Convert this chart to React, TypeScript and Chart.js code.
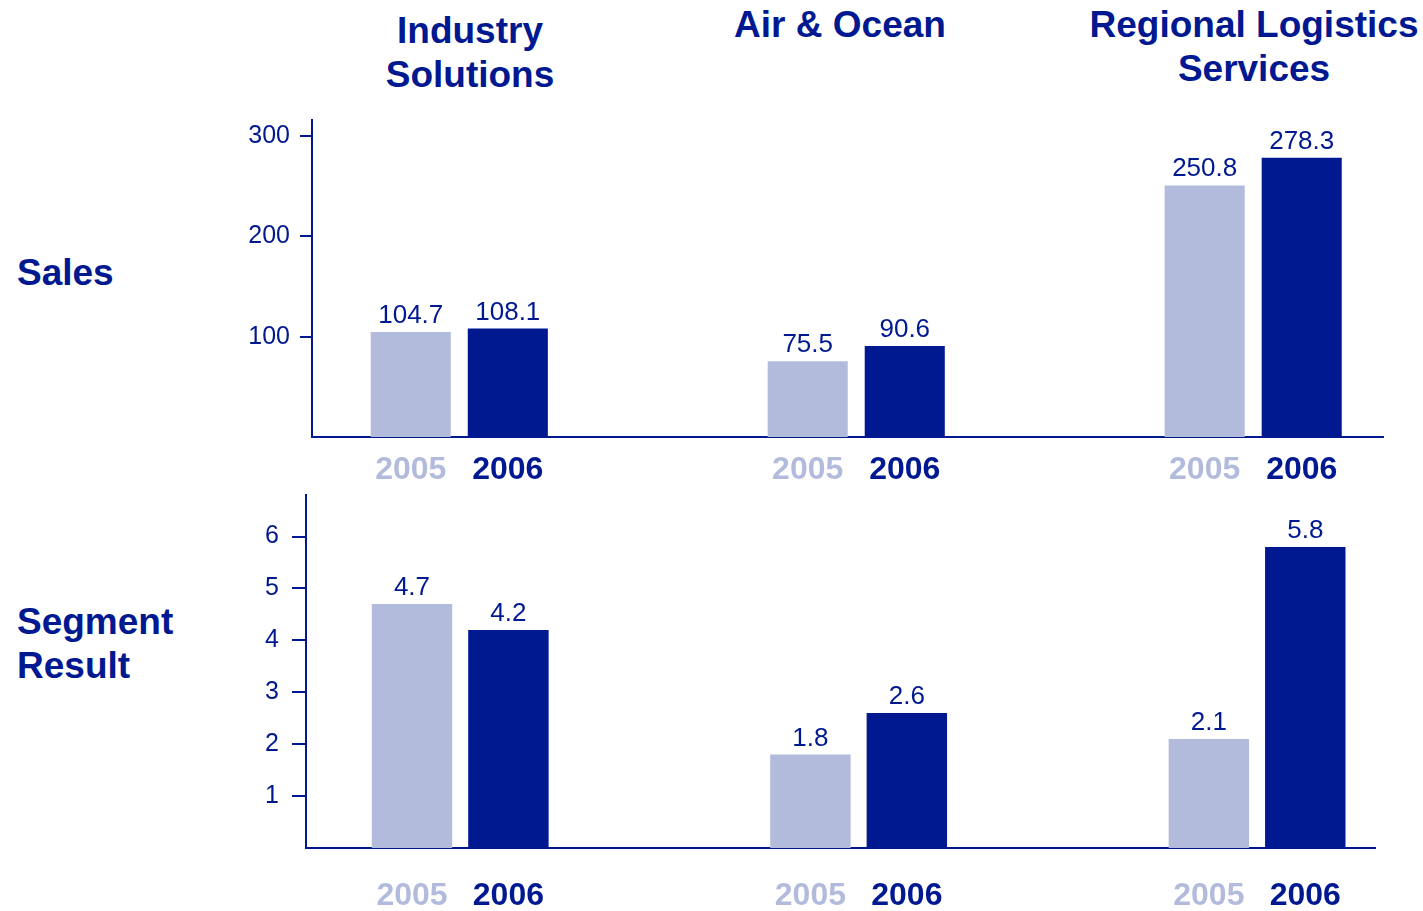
import React, { useEffect, useRef } from "react";
import { Chart, registerables } from "chart.js";

Chart.register(...registerables);

// ---- data ----
const groups = ["Industry Solutions", "Air & Ocean", "Regional Logistics Services"];
const years = ["2005", "2006"];
const sales2005 = [104.7, 75.5, 250.8];
const sales2006 = [108.1, 90.6, 278.3];
const result2005 = [4.7, 1.8, 2.1];
const result2006 = [4.2, 2.6, 5.8];
const salesTicks = [100, 200, 300];
const resultTicks = [1, 2, 3, 4, 5, 6];

const DARK = "#001890";
const LIGHT = "#B3BBDD";
const FONT = '"Liberation Sans", Arial, Helvetica, sans-serif';

type PanelProps = {
  v2005: number[];
  v2006: number[];
  ticks: number[];
  yMax: number;
  xMin: number;
  xMax: number;
  top: number;
  height: number;
  padTop: number;
  padRight: number;
  yAxisWidth: number;
  xAxisHeight: number;
  tickLength: number;
  tickPadding: number;
  yearOffset: number;
  catPct: number;
  barPct: number;
};

const labelPlugin = {
  id: "barLabels",
  afterDatasetsDraw(chart: any, _args: any, opts: any) {
    const ctx = chart.ctx;
    ctx.save();
    chart.data.datasets.forEach((ds: any, di: number) => {
      const meta = chart.getDatasetMeta(di);
      meta.data.forEach((bar: any, i: number) => {
        const v = ds.data[i].y as number;
        ctx.textAlign = "center";
        ctx.textBaseline = "alphabetic";
        ctx.font = `26px ${FONT}`;
        ctx.fillStyle = DARK;
        ctx.fillText(v.toFixed(1), bar.x, bar.y - 9);
        ctx.font = `bold 32px ${FONT}`;
        ctx.fillStyle = di === 0 ? LIGHT : DARK;
        ctx.fillText(years[di], bar.x, chart.chartArea.bottom + (opts.yearOffset || 40));
      });
    });
    ctx.restore();
  },
};

function Panel(p: PanelProps) {
  const ref = useRef<HTMLCanvasElement | null>(null);
  useEffect(() => {
    if (!ref.current) return;
    const chart = new Chart(ref.current, {
      type: "bar",
      data: {
        datasets: [
          {
            label: years[0],
            data: p.v2005.map((v, i) => ({ x: i, y: v })),
            backgroundColor: LIGHT,
            categoryPercentage: p.catPct,
            barPercentage: p.barPct,
          },
          {
            label: years[1],
            data: p.v2006.map((v, i) => ({ x: i, y: v })),
            backgroundColor: DARK,
            categoryPercentage: p.catPct,
            barPercentage: p.barPct,
          },
        ],
      } as any,
      options: {
        responsive: false,
        animation: false,
        layout: { padding: { left: 0, right: p.padRight, top: p.padTop, bottom: 0 } },
        plugins: {
          legend: { display: false },
          tooltip: { enabled: false },
          barLabels: { yearOffset: p.yearOffset },
        } as any,
        scales: {
          x: {
            type: "linear",
            min: p.xMin,
            max: p.xMax,
            offset: false,
            grid: { display: false, drawTicks: false },
            border: { display: true, color: DARK, width: 2 },
            ticks: { display: false },
            afterBuildTicks: (s: any) => {
              s.ticks = groups.map((_, i) => ({ value: i }));
            },
            afterFit: (s: any) => {
              s.height = p.xAxisHeight;
              s.paddingLeft = 0;
              s.paddingRight = 0;
            },
          },
          y: {
            min: 0,
            max: p.yMax,
            grid: {
              drawOnChartArea: false,
              drawTicks: true,
              tickLength: p.tickLength,
              color: DARK,
              lineWidth: 2,
            },
            border: { display: true, color: DARK, width: 2 },
            ticks: {
              color: DARK,
              font: { family: FONT, size: 25 },
              padding: p.tickPadding,
              autoSkip: false,
            },
            afterBuildTicks: (s: any) => {
              s.ticks = p.ticks.map((v) => ({ value: v }));
            },
            afterFit: (s: any) => {
              s.width = p.yAxisWidth;
              s.paddingTop = 0;
              s.paddingBottom = 0;
            },
          },
        } as any,
      },
      plugins: [labelPlugin],
    });
    return () => chart.destroy();
  }, []);
  return (
    <canvas
      ref={ref}
      width={1423}
      height={p.height}
      style={{ position: "absolute", left: 0, top: p.top, width: 1423, height: p.height }}
    />
  );
}

const headStyle: React.CSSProperties = {
  position: "absolute",
  fontFamily: FONT,
  fontWeight: "bold",
  fontSize: 37,
  lineHeight: "44px",
  color: DARK,
  whiteSpace: "nowrap",
};

export default function App() {
  return (
    <div style={{ position: "absolute", left: 0, top: 0, width: 1423, height: 911, background: "#fff", overflow: "hidden" }}>
      <div style={{ ...headStyle, left: 270, width: 400, top: 9, textAlign: "center" }}>
        Industry
        <br />
        Solutions
      </div>
      <div style={{ ...headStyle, left: 640, width: 400, top: 3, textAlign: "center" }}>{groups[1]}</div>
      <div style={{ ...headStyle, left: 1054, width: 400, top: 3, textAlign: "center" }}>
        Regional Logistics
        <br />
        Services
      </div>
      <div style={{ ...headStyle, left: 17, top: 251 }}>Sales</div>
      <div style={{ ...headStyle, left: 17, top: 600 }}>
        Segment
        <br />
        Result
      </div>
      <Panel
        v2005={sales2005}
        v2006={sales2006}
        ticks={salesTicks}
        yMax={316}
        xMin={-0.371}
        xMax={2.327}
        top={100}
        height={390}
        padTop={20}
        padRight={40}
        yAxisWidth={312}
        xAxisHeight={53}
        tickLength={12}
        tickPadding={10}
        yearOffset={42}
        catPct={0.489}
        barPct={0.825}
      />
      <Panel
        v2005={result2005}
        v2006={result2006}
        ticks={resultTicks}
        yMax={6.8}
        xMin={-0.387}
        xMax={2.296}
        top={490}
        height={421}
        padTop={5}
        padRight={48}
        yAxisWidth={306}
        xAxisHeight={63}
        tickLength={14}
        tickPadding={13}
        yearOffset={57}
        catPct={0.484}
        barPct={0.834}
      />
    </div>
  );
}
